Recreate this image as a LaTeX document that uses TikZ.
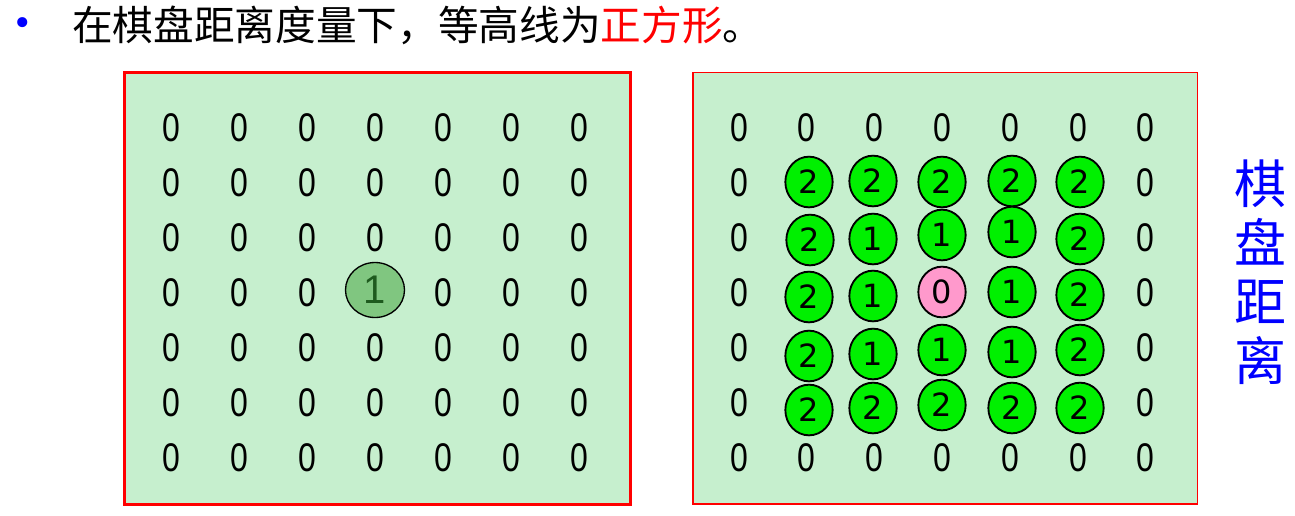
\documentclass[tikz,border=0pt]{standalone}
\usepackage{fontspec}
\setmainfont{Liberation Sans}
\newfontfamily\cjkfont{Noto Sans CJK SC}
\newfontfamily\dvfont{DejaVu Sans}
\usetikzlibrary{shapes.geometric}
\definecolor{bgg}{HTML}{C6EFCE}
\definecolor{brightg}{RGB}{0,240,0}
\definecolor{pinkc}{HTML}{FF99CC}
\definecolor{leftc}{RGB}{128,198,128}
\definecolor{leftt}{RGB}{30,90,30}
\newcommand\zz{\scalebox{0.8}[1]{0}}
\begin{document}
\begin{tikzpicture}[x=0.75pt,y=-0.75pt,
  zero/.style={inner sep=0, font=\fontsize{30pt}{30pt}\selectfont},
  panelA/.style={draw=red, line width=2.25pt, fill=bgg},
  panelB/.style={draw=red, line width=1.1pt, fill=bgg},
  ball/.style={ellipse, draw=black, line width=1.4pt, inner sep=0,
    minimum width=35.5pt, minimum height=38pt,
    font=\dvfont\fontsize{24pt}{24pt}\selectfont},
  gball/.style={ball, fill=brightg},
  pball/.style={ball, fill=pinkc},
  lball/.style={ellipse, draw=black, line width=1pt, inner sep=0, fill=leftc,
    minimum width=44.25pt, minimum height=41.25pt, text=leftt,
    font=\fontsize{30pt}{30pt}\selectfont}
]
\useasboundingbox (0,0) rectangle (1295,515);
% title
\node[inner sep=0, text=blue, font=\dvfont\fontsize{26pt}{26pt}\selectfont] (bullet) at (23,27) {•};
\node[anchor=base west, inner sep=0, font=\cjkfont\fontsize{30.5pt}{30.5pt}\selectfont] (title) at (72,40)
  {在棋盘距离度量下，等高线为\textcolor{red}{正方形}。};
% panels
\draw[panelA] (124.5,72.5) rectangle (630.5,504.5);
\draw[panelB] (693,72.5) rectangle (1197.5,504);
% left grid
\foreach \i in {0,...,6} {
  \foreach \j in {0,...,6} {
    \pgfmathsetmacro\xx{171+68*\i}
    \pgfmathsetmacro\yy{128+55*\j}
    \pgfmathtruncatemacro\cc{(\i==3)&&(\j==3)}
    \ifnum\cc=0
      \node[zero] (L-\i-\j) at (\xx,\yy) {\zz};
    \fi
  }
}
\node[lball] (L-3-3) at (375,290) {1};
% right grid zeros
\foreach \i in {0,...,6} {
  \foreach \j in {0,...,6} {
    \pgfmathsetmacro\xx{739+67.8*\i}
    \pgfmathsetmacro\yy{128+55*\j}
    \pgfmathtruncatemacro\rr{(\i==0)||(\i==6)||(\j==0)||(\j==6)}
    \ifnum\rr=1
      \node[zero] (R-\i-\j) at (\xx,\yy) {\zz};
    \fi
  }
}
% right circles
\foreach \x/\y/\d/\n in {
  809/182/2/1-1, 873/181/2/2-1, 942/182/2/3-1, 1012/181/2/4-1, 1080/182/2/5-1,
  810/240/2/1-2, 873/239/1/2-2, 942/235/1/3-2, 1012/232/1/4-2, 1080/239/2/5-2,
  809/297/2/1-3, 873/296/1/2-3, 1012/292/1/4-3, 1080/295/2/5-3,
  809/356/2/1-4, 873/354/1/2-4, 942/350/1/3-4, 1012/352/1/4-4, 1080/350/2/5-4,
  809/410/2/1-5, 873/408/2/2-5, 942/405/2/3-5, 1012/408/2/4-5, 1080/408/2/5-5} {
  \node[gball] (R-\n) at (\x,\y) {\d};
}
\node[pball] (R-3-3) at (942,292) {0};
% side label
\node[inner sep=0, text=blue, align=center,
  font=\cjkfont\fontsize{39pt}{44.25pt}\selectfont] (label) at (1260,272.5)
  {棋\\盘\\距\\离};
\end{tikzpicture}
\end{document}
